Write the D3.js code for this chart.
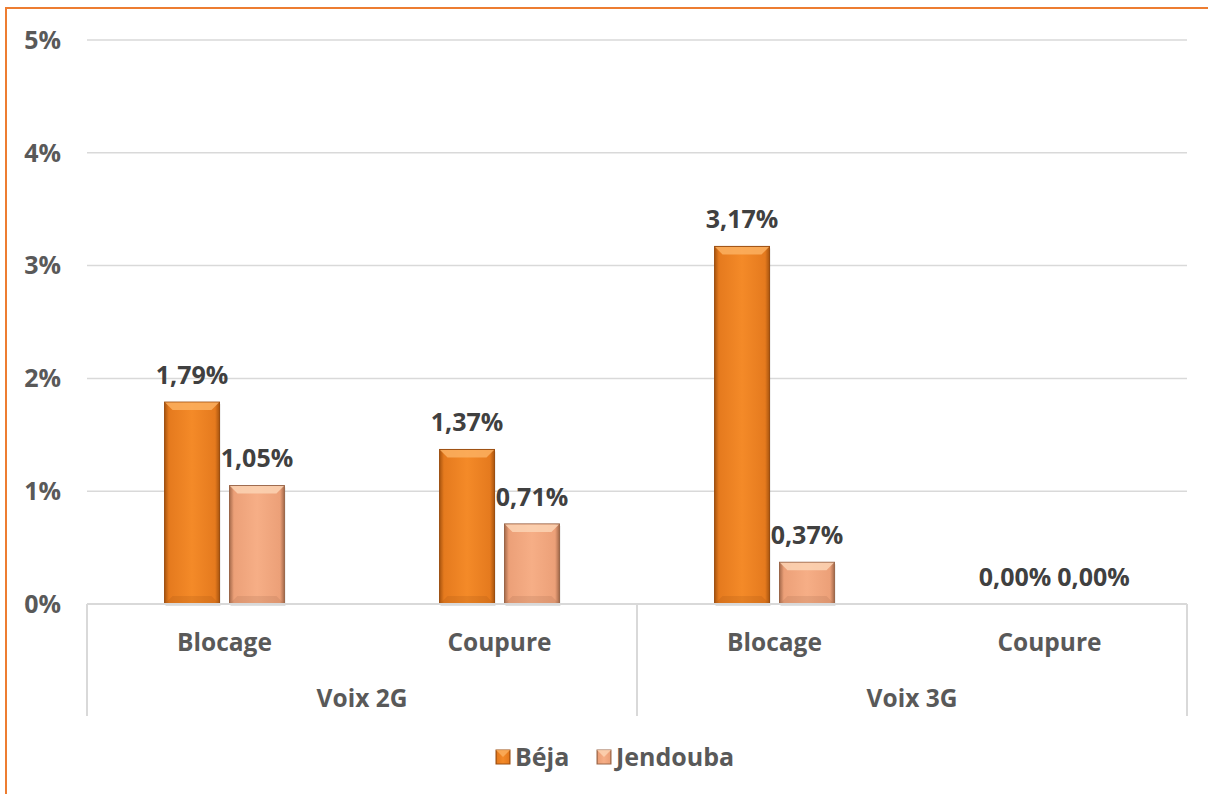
<!DOCTYPE html>
<meta charset="utf-8">
<script src="https://d3js.org/d3.v7.min.js"></script>
<style>
  body { margin: 0; background: #fff; }
  text { font-family: "Open Sans", "Lato", sans-serif; font-weight: bold; }
</style>
<div id="chart"></div>
<script>
  // data
  const groups = ["Voix 2G", "Voix 3G"];
  const categories = ["Blocage", "Coupure", "Blocage", "Coupure"];
  const categoryGroup = [0, 0, 1, 1];
  const seriesNames = ["Béja", "Jendouba"];
  const beja = [1.79, 1.37, 3.17, 0.00];
  const jendouba = [1.05, 0.71, 0.37, 0.00];
  const yTicks = [0, 1, 2, 3, 4, 5];

  const W = 1208, H = 794;
  const plot = { left: 87, right: 1187, top: 40, bottom: 604 };
  const fsCat = 24.5, fsVal = 25, fsAxis = 25;

  const svg = d3.select("#chart").append("svg")
    .attr("width", W).attr("height", H);

  // chart frame (orange border on top / left)
  svg.append("rect")
    .attr("x", 6).attr("y", 8).attr("width", W + 10).attr("height", H + 10)
    .attr("fill", "#fff").attr("stroke", "#ed7d31").attr("stroke-width", 2);

  const defs = svg.append("defs");
  function barGrad(id, light, mid, dark) {
    const g = defs.append("linearGradient").attr("id", id)
      .attr("x1", 0).attr("x2", 1).attr("y1", 0).attr("y2", 0);
    g.append("stop").attr("offset", "0%").attr("stop-color", dark);
    g.append("stop").attr("offset", "8%").attr("stop-color", mid);
    g.append("stop").attr("offset", "50%").attr("stop-color", light);
    g.append("stop").attr("offset", "92%").attr("stop-color", mid);
    g.append("stop").attr("offset", "100%").attr("stop-color", dark);
  }
  barGrad("gBeja", "#f48a28", "#e57a1e", "#a9550f");
  barGrad("gJend", "#f6ae86", "#eca078", "#a56a4b");
  const colors = [
    { fill: "url(#gBeja)", top: "#fbb060", edge: "#9c4e10" },
    { fill: "url(#gJend)", top: "#fcd4b4", edge: "#9a6649" }
  ];

  const y = d3.scaleLinear().domain([0, 5]).range([plot.bottom, plot.top]);
  const x0 = d3.scaleBand().domain(d3.range(categories.length))
    .range([plot.left, plot.right]).padding(0);
  const bw = x0.bandwidth();
  const x1 = d3.scaleBand().domain([0, 1])
    .range([bw * 0.282, bw * 0.718]).paddingInner(0.154);

  // gridlines
  svg.append("g").selectAll("line").data(yTicks.slice(1)).join("line")
    .attr("x1", plot.left).attr("x2", plot.right)
    .attr("y1", d => y(d)).attr("y2", d => y(d))
    .attr("stroke", "#d9d9d9").attr("stroke-width", 1.5);

  // y labels
  svg.append("g").selectAll("text").data(yTicks).join("text")
    .attr("x", 61).attr("y", d => y(d)).attr("dy", "0.35em")
    .attr("text-anchor", "end").attr("font-size", fsAxis).attr("fill", "#595959")
    .text(d => d + "%");

  // bars
  const series = [beja, jendouba];
  const fmt = v => v.toFixed(2).replace(".", ",") + "%";
  const labels = [];
  series.forEach((vals, s) => {
    const g = svg.append("g");
    vals.forEach((v, i) => {
      const bx = x0(i) + x1(s), bwid = x1.bandwidth();
      const top = y(v), h = plot.bottom - top;
      if (h > 0) {
        // soft shadow
        g.append("rect").attr("x", bx + 1).attr("y", top + 2)
          .attr("width", bwid).attr("height", h)
          .attr("fill", "#000").attr("opacity", 0.12);
        g.append("rect").attr("x", bx).attr("y", top)
          .attr("width", bwid).attr("height", h)
          .attr("fill", colors[s].fill)
          .attr("stroke", colors[s].edge).attr("stroke-width", 1);
        // top bevel
        const b = Math.min(8, h / 2);
        g.append("path")
          .attr("d", `M${bx + 0.5},${top + 0.5} L${bx + bwid - 0.5},${top + 0.5} L${bx + bwid - b},${top + b} L${bx + b},${top + b} Z`)
          .attr("fill", colors[s].top).attr("opacity", 0.85);
        // bottom bevel
        g.append("path")
          .attr("d", `M${bx + 0.5},${plot.bottom - 0.5} L${bx + bwid - 0.5},${plot.bottom - 0.5} L${bx + bwid - b},${plot.bottom - b} L${bx + b},${plot.bottom - b} Z`)
          .attr("fill", colors[s].edge).attr("opacity", 0.18);
      }
      const t = g.append("text")
        .attr("x", bx + bwid / 2).attr("y", top - 27).attr("dy", "0.35em")
        .attr("text-anchor", "middle").attr("font-size", fsVal).attr("fill", "#404040")
        .text(fmt(v));
      labels.push({ t, i, s, cx: bx + bwid / 2, cy: top - 27 });
    });
  });

  // keep labels of the same category from overlapping (as the original does)
  d3.range(categories.length).forEach(i => {
    const a = labels.find(l => l.i === i && l.s === 0);
    const b = labels.find(l => l.i === i && l.s === 1);
    if (Math.abs(a.cy - b.cy) < 20) {
      const wa = a.t.node().getComputedTextLength();
      const wb = b.t.node().getComputedTextLength();
      const need = wa / 2 + wb / 2 + 6;
      const have = b.cx - a.cx;
      if (have < need) {
        a.t.attr("x", a.cx - 2);
        b.t.attr("x", a.cx - 2 + need);
      }
    }
  });

  // category axis
  const axis = svg.append("g").attr("stroke", "#d9d9d9").attr("stroke-width", 2);
  axis.append("line").attr("x1", plot.left).attr("x2", plot.right)
    .attr("y1", plot.bottom).attr("y2", plot.bottom);
  const seps = [plot.left, x0(2), plot.right];
  axis.selectAll(".sep").data(seps).join("line")
    .attr("x1", d => d).attr("x2", d => d)
    .attr("y1", plot.bottom).attr("y2", 716);

  svg.append("g").selectAll("text").data(categories).join("text")
    .attr("x", (d, i) => x0(i) + bw / 2).attr("y", 642).attr("dy", "0.35em")
    .attr("text-anchor", "middle").attr("font-size", fsCat).attr("fill", "#595959")
    .text(d => d);

  svg.append("g").selectAll("text").data(groups).join("text")
    .attr("x", (d, gi) => {
      const idx = d3.range(categories.length).filter(i => categoryGroup[i] === gi);
      return (x0(idx[0]) + x0(idx[idx.length - 1]) + bw) / 2;
    })
    .attr("y", 698).attr("dy", "0.35em")
    .attr("text-anchor", "middle").attr("font-size", fsCat).attr("fill", "#595959")
    .text(d => d);

  // legend
  const legX = [496, 597];
  const leg = svg.append("g");
  seriesNames.forEach((n, s) => {
    leg.append("rect").attr("x", legX[s]).attr("y", 750).attr("width", 14).attr("height", 14)
      .attr("fill", colors[s].fill).attr("stroke", colors[s].edge).attr("stroke-width", 1);
    leg.append("path")
      .attr("d", `M${legX[s]},750 L${legX[s] + 14},750 L${legX[s] + 7},757 Z`)
      .attr("fill", colors[s].top).attr("opacity", 0.8);
    leg.append("text").attr("x", legX[s] + 19).attr("y", 757).attr("dy", "0.35em")
      .attr("font-size", fsVal).attr("fill", "#595959").text(n);
  });
</script>
